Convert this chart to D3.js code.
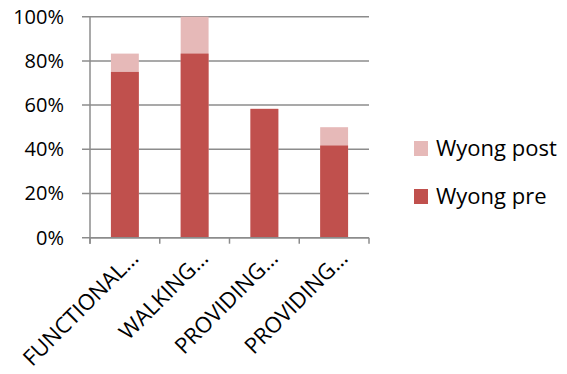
<!DOCTYPE html>
<html>
<head>
<meta charset="utf-8">
<script src="https://cdn.jsdelivr.net/npm/d3@7"></script>
<style>
  html, body { margin: 0; padding: 0; background: #fff; }
  svg { display: block; }
  text { font-family: "Open Sans", "Noto Sans", sans-serif; fill: #000; }
</style>
</head>
<body>
<svg id="chart" width="567" height="374"></svg>
<script>
// Share of respondents per item, before and after
const categories = ["FUNCTIONAL…", "WALKING…", "PROVIDING…", "PROVIDING…"];
const wyongPre  = [0.75, 0.833, 0.583, 0.417];
const wyongPost = [0.833, 1.0, 0.583, 0.50];
const yTicks = [0, 0.2, 0.4, 0.6, 0.8, 1.0];
const seriesNames = ["Wyong post", "Wyong pre"];
const seriesColors = ["#E6B9B8", "#C0504D"];

const svg = d3.select("#chart");
const plot = { left: 90, right: 369, top: 16.7, bottom: 237.7 };

const x = d3.scaleBand()
  .domain(d3.range(categories.length))
  .range([plot.left, plot.right])
  .paddingInner(0.6)
  .paddingOuter(0.3);

const y = d3.scaleLinear().domain([0, 1]).range([plot.bottom, plot.top]);

// Horizontal gridlines
svg.append("g")
  .selectAll("line")
  .data(yTicks)
  .join("line")
  .attr("x1", plot.left - 8)
  .attr("x2", plot.right)
  .attr("y1", d => y(d))
  .attr("y2", d => y(d))
  .attr("stroke", "#8c8c8c")
  .attr("stroke-width", 1.5);

// Y axis labels
const yAxis = d3.axisLeft(y).tickValues(yTicks).tickFormat(d3.format(".0%")).tickSize(0).tickPadding(0);
svg.append("g")
  .attr("transform", `translate(${plot.left - 26},0)`)
  .call(yAxis)
  .call(g => g.select(".domain").remove())
  .selectAll("text")
  .attr("font-size", 20)
  .attr("font-family", "'Open Sans', sans-serif")
  .attr("fill", "#000");

// Bars: post behind, pre in front
const bars = svg.append("g");
bars.selectAll("rect.post")
  .data(wyongPost)
  .join("rect")
  .attr("class", "post")
  .attr("x", (d, i) => x(i))
  .attr("width", x.bandwidth())
  .attr("y", d => y(d))
  .attr("height", d => y(0) - y(d))
  .attr("fill", seriesColors[0]);
bars.selectAll("rect.pre")
  .data(wyongPre)
  .join("rect")
  .attr("class", "pre")
  .attr("x", (d, i) => x(i))
  .attr("width", x.bandwidth())
  .attr("y", d => y(d))
  .attr("height", d => y(0) - y(d))
  .attr("fill", seriesColors[1]);

// Axis lines and category ticks
const bounds = d3.range(categories.length + 1).map(i => plot.left + i * (plot.right - plot.left) / categories.length);
const axes = svg.append("g").attr("stroke", "#8c8c8c").attr("stroke-width", 1.5);
axes.append("line").attr("x1", plot.left).attr("x2", plot.left).attr("y1", plot.top).attr("y2", plot.bottom + 6);
axes.append("line").attr("x1", plot.left).attr("x2", plot.right).attr("y1", plot.bottom).attr("y2", plot.bottom);
axes.selectAll("line.tick")
  .data(bounds)
  .join("line")
  .attr("class", "tick")
  .attr("x1", d => d).attr("x2", d => d)
  .attr("y1", plot.bottom).attr("y2", plot.bottom + 6);

// Rotated category labels
svg.append("g")
  .selectAll("text")
  .data(categories)
  .join("text")
  .attr("transform", (d, i) => `translate(${x(i) + x.bandwidth() / 2 + 15},${plot.bottom + 22}) rotate(-45)`)
  .attr("text-anchor", "end")
  .attr("font-size", 22)
  .text(d => d);

// Legend
const legend = svg.append("g").attr("transform", "translate(414,141)");
seriesNames.forEach((name, i) => {
  const g = legend.append("g").attr("transform", `translate(0,${i * 48})`);
  g.append("rect").attr("width", 14).attr("height", 15).attr("fill", seriesColors[i]);
  g.append("text").attr("x", 22).attr("y", 7.5).attr("dy", "0.35em").attr("font-size", 22).text(name);
});
</script>
</body>
</html>
